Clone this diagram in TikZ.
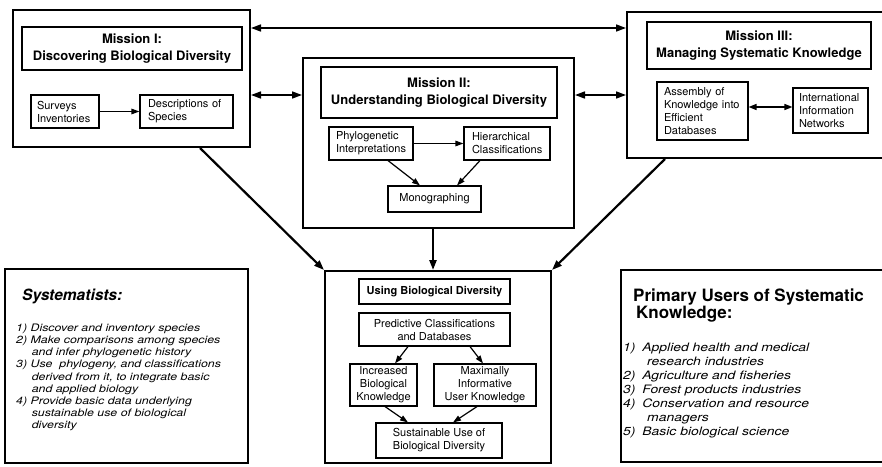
\documentclass[tikz,border=0pt]{standalone}
\usepackage{fontspec}
\usepackage{graphicx}
\setmainfont{TeX Gyre Heros}
\usetikzlibrary{arrows.meta}
\tikzset{
  outer/.style={draw, line width=2pt, inner sep=0pt},
  ttl/.style={draw, line width=1.2pt, align=center, inner sep=0pt, font=\fontsize{13}{16.5}\selectfont\bfseries},
  ibox/.style={draw, line width=1.1pt, align=center, inner sep=0pt, font=\fontsize{11}{13}\selectfont},
  lbox/.style={draw, line width=1.1pt, align=left, inner ysep=0pt, font=\fontsize{11}{13}\selectfont},
  bigarr/.style={line width=2.2pt, -{Triangle[length=10pt,width=7pt]}},
  dblarr/.style={line width=1.6pt, {Triangle[length=10pt,width=7pt]}-{Triangle[length=10pt,width=7pt]}},
  smarr/.style={line width=1.2pt, -{Triangle[length=8pt,width=5.5pt]}},
  smdbl/.style={line width=1.4pt, {Triangle[length=8pt,width=6pt]}-{Triangle[length=8pt,width=6pt]}},
}
\begin{document}
\begin{tikzpicture}[x=1pt,y=-1pt]
\useasboundingbox (0,0) rectangle (882,466);
\fill[white] (0,0) rectangle (882,466);

% ---------- Mission I ----------
\node[outer, minimum width=237pt, minimum height=137pt] (m1) at (131.5,78.5) {};
\node[ttl, minimum width=220pt, minimum height=43pt] (m1t) at (132,48.5) {Mission I:\\Discovering Biological Diversity};
\node[lbox, inner xsep=6pt, text width=56pt, minimum height=33pt] (sur) at (65,111.5) {Surveys\\Inventories};
\node[lbox, inner xsep=8pt, text width=77pt, minimum height=33pt] (des) at (186.5,111.5) {Descriptions of\\Species};

% ---------- Mission II ----------
\node[outer, minimum width=271pt, minimum height=170pt] (m2) at (438.5,143) {};
\node[ttl, minimum width=236pt, minimum height=51pt] (m2t) at (439,92.5) {Mission II:\\Understanding Biological Diversity};
\node[lbox, inner xsep=7pt, text width=70pt, minimum height=33pt] (phy) at (371,143.5) {Phylogenetic\\Interpretations};
\node[lbox, inner xsep=8pt, text width=70pt, minimum height=33pt] (hie) at (507,143.5) {Hierarchical\\Classifications};
\node[ibox, minimum width=93pt, minimum height=26pt] (mono) at (434.5,199) {Monographing};

% ---------- Mission III ----------
\node[outer, minimum width=268pt, minimum height=146pt] (m3) at (761,85) {};
\node[ttl, minimum width=224pt, minimum height=47pt] (m3t) at (759,45.5) {Mission III:\\Managing Systematic Knowledge};
\node[lbox, inner xsep=7pt, text width=77pt, minimum height=58pt] (asm) at (702.5,111) {Assembly of\\Knowledge into\\Efficient\\Databases};
\node[lbox, inner xsep=6pt, text width=63pt, minimum height=45pt] (int) at (830.5,110.5) {International\\Information\\Networks};

% ---------- Using ----------
\node[outer, minimum width=226pt, minimum height=192pt] (use) at (438,367) {};
\node[ibox, font=\fontsize{11}{13}\selectfont\bfseries, minimum width=151pt, minimum height=25pt] (uset) at (434.5,291.5) {Using Biological Diversity};
\node[ibox, minimum width=151pt, minimum height=33pt] (pred) at (434.5,329.5) {Predictive Classifications\\and Databases};
\node[ibox, minimum width=67pt, minimum height=42pt] (inc) at (383.5,385) {Increased\\Biological\\Knowledge};
\node[ibox, minimum width=102pt, minimum height=42pt] (max) at (485,385) {Maximally\\Informative\\User Knowledge};
\node[ibox, minimum width=126pt, minimum height=35pt] (sus) at (439,440.5) {Sustainable Use of\\Biological Diversity};

% ---------- Systematists ----------
\node[outer, minimum width=243pt, minimum height=194pt] (sys) at (126.5,366) {};
\node[anchor=base west, inner sep=0pt, font=\bfseries\itshape\fontsize{15.5}{18}\selectfont] (syst) at (22,300) {Systematists:};
\node[anchor=north west, inner sep=0pt, font=\itshape\fontsize{10.3}{12.2}\selectfont] (sysl) at (16,322.5) {\scalebox{1.2}[1]{\begin{tabular}{@{}l@{}}
1) Discover and inventory species\\
2) Make comparisons among species\\
\hspace*{13pt}and infer phylogenetic history\\
3) Use\ \ phylogeny, and classifications\\
\hspace*{13pt}derived from it, to integrate basic\\
\hspace*{13pt}and applied biology\\
4) Provide basic data underlying\\
\hspace*{13pt}sustainable use of biological\\
\hspace*{13pt}diversity
\end{tabular}}};

% ---------- Primary users ----------
\node[outer, minimum width=274pt, minimum height=192pt] (pri) at (758,366) {};
\node[anchor=north west, inner sep=0pt, align=left, font=\fontsize{17}{16.5}\selectfont\bfseries] (prit) at (633,289) {Primary Users of Systematic\\\hspace*{3pt}Knowledge:};
\node[anchor=north west, inner sep=0pt, font=\itshape\fontsize{11.6}{14}\selectfont] (pril) at (623,341.7) {\scalebox{1.2}[1]{\begin{tabular}{@{}l@{}}
\makebox[16pt][l]{1)}Applied health and medical\\
\hspace*{20pt}research industries\\
\makebox[16pt][l]{2)}Agriculture and fisheries\\
\makebox[16pt][l]{3)}Forest products industries\\
\makebox[16pt][l]{4)}Conservation and resource\\
\hspace*{20pt}managers\\
\makebox[16pt][l]{5)}Basic biological science
\end{tabular}}};

% ---------- connectors ----------
\draw[dblarr] (m1.east |- 0,28) -- (m3.west |- 0,28);
\draw[dblarr] (m1.east |- 0,95) -- (m2.west |- 0,95);
\draw[dblarr] (m2.east |- 0,95) -- (m3.west |- 0,95);
\draw[smarr] (sur.east) -- (des.west);
\draw[smarr] (phy.east) -- (hie.west);
\draw[smarr] (phy.south -| 388,0) -- (mono.north -| 420,0);
\draw[smarr] (hie.south -| 480,0) -- (mono.north -| 457,0);
\draw[smdbl] (asm.east |- 0,107) -- (int.west |- 0,107);
\draw[bigarr] (m1.south -| 200,0) -- (use.north west);
\draw[bigarr] (m2.south -| 433,0) -- (use.north -| 433,0);
\draw[bigarr] (m3.south -| 665,0) -- (use.north east);
\draw[smarr] (pred.south -| 408,0) -- (inc.north -| 395,0);
\draw[smarr] (pred.south -| 470,0) -- (max.north -| 483,0);
\draw[smarr] (inc.south -| 385,0) -- (sus.north -| 408,0);
\draw[smarr] (max.south -| 477,0) -- (sus.north -| 453,0);
\end{tikzpicture}
\end{document}
